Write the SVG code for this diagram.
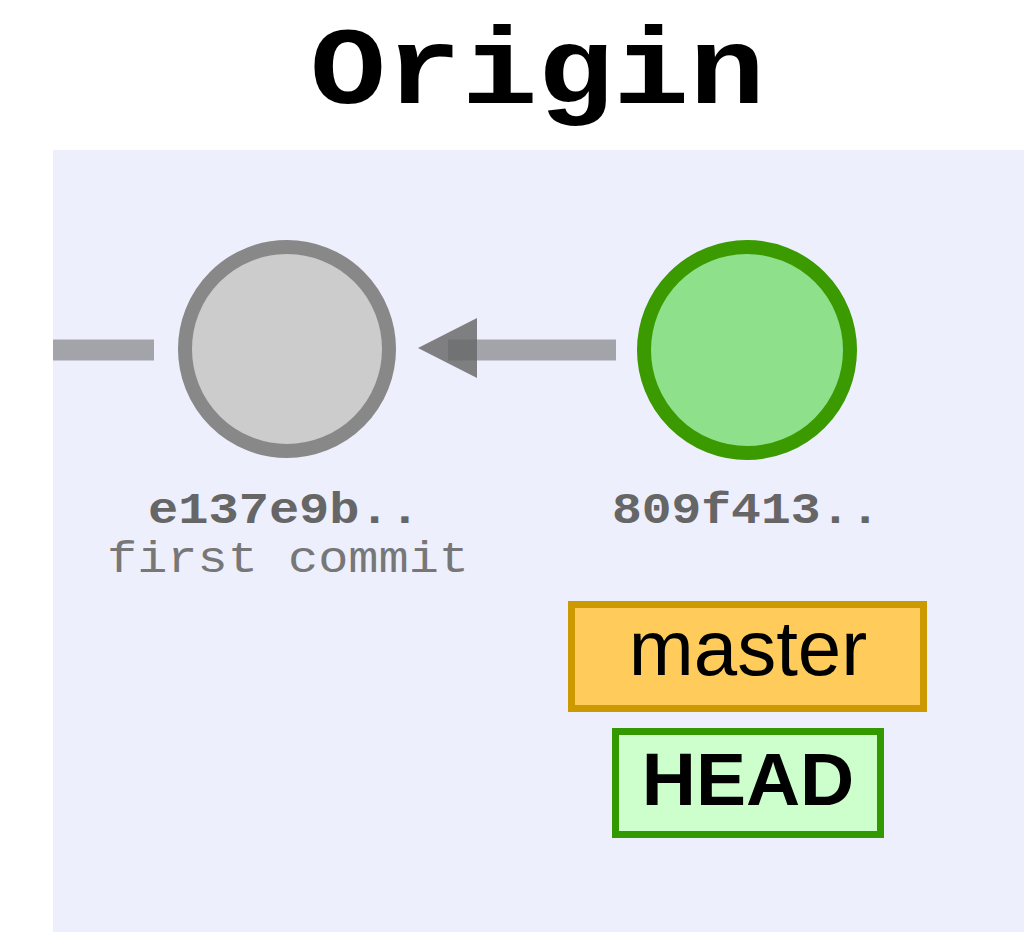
<svg xmlns="http://www.w3.org/2000/svg" width="1035" height="932" viewBox="0 0 1035 932">
  <style>
    .title { font-family: "Liberation Mono", "Courier New", monospace; font-weight: bold; font-size: 110px; fill: #000; }
    .sha { font-family: "Liberation Mono", "Courier New", monospace; font-weight: bold; font-size: 44px; fill: #666; }
    .msg { font-family: "Liberation Mono", "Courier New", monospace; font-size: 44px; fill: #777; }
    .edge { stroke: #666; stroke-opacity: 0.55; stroke-width: 21; fill: none; }
    .head { fill: #666; fill-opacity: 0.82; }
    .label { font-family: "Liberation Sans", Arial, sans-serif; fill: #000; text-anchor: middle; }
  </style>
  <rect x="0" y="0" width="1035" height="932" fill="#ffffff"/>
  <text class="title" x="310" y="103" textLength="455" lengthAdjust="spacingAndGlyphs">Origin</text>
  <rect id="background" x="53" y="150" width="971" height="782" fill="#eeeffd"/>
  <g id="connectors">
    <line class="edge" x1="53" y1="350" x2="154" y2="350"/>
    <line class="edge" x1="448" y1="350" x2="616" y2="350"/>
    <polygon class="head" points="418,348 477,318 477,378"/>
  </g>
  <g id="commit-e137e9b">
    <circle cx="287" cy="349" r="102" fill="#cccccc" stroke="#888888" stroke-width="14"/>
    <text class="sha" x="148" y="523" textLength="272" lengthAdjust="spacingAndGlyphs">e137e9b..</text>
    <text class="msg" x="107" y="572" textLength="362" lengthAdjust="spacingAndGlyphs">first commit</text>
  </g>
  <g id="commit-809f413">
    <circle cx="747" cy="350" r="103" fill="#8ee08a" stroke="#3a9a00" stroke-width="14"/>
    <text class="sha" x="612" y="523" textLength="268" lengthAdjust="spacingAndGlyphs">809f413..</text>
  </g>
  <g id="branch-master">
    <rect x="571.5" y="604.5" width="352" height="104" fill="#ffcc5c" stroke="#cc9900" stroke-width="7"/>
    <text class="label" x="748" y="675" font-size="78">master</text>
  </g>
  <g id="head">
    <rect x="615.5" y="731.5" width="265" height="103" fill="#ccffcc" stroke="#339900" stroke-width="7"/>
    <text class="label" x="748" y="805" font-size="75" font-weight="bold">HEAD</text>
  </g>
</svg>
